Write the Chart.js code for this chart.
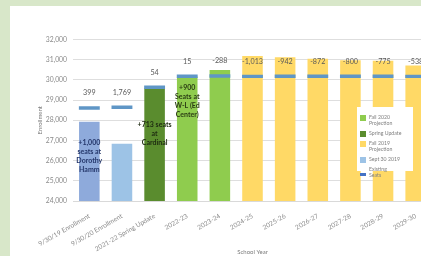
<!DOCTYPE html>
<html>
<head>
<meta charset="utf-8">
<script src="https://cdn.jsdelivr.net/npm/chart.js@4/dist/chart.umd.min.js"></script>
<style>
  html, body { margin: 0; padding: 0; width: 421px; height: 256px; overflow: hidden; background: #d8e7c9; }
  #panel { position: absolute; left: 10px; top: 6px; width: 411px; height: 250px; background: #fff; overflow: hidden; }
  #wrap { position: absolute; left: 0; top: 2px; width: 424px; height: 248px; }
  #legend { position: absolute; left: 347px; top: 101px; width: 56px; height: 64px; background: #fff;
            font-family: Lato, "Noto Sans", sans-serif; font-size: 5.2px; line-height: 6px; color: #808080; }
  .item { position: absolute; left: 12px; }
  .sw { position: absolute; left: 3px; width: 6px; height: 6px; }
</style>
</head>
<body>
<div id="panel">
  <div id="wrap"><canvas id="chart"></canvas></div>
  <div id="legend"></div>
</div>
<script>
// categories and values
const categories = ['9/30/19 Enrollment', '9/30/20 Enrollment', '2021-22 Spring Update', '2022-23', '2023-24',
                    '2024-25', '2025-26', '2026-27', '2027-28', '2028-29', '2029-30'];
const enrollment = [27928, 26838, 29583, 30166, 30487, 31191, 31121, 31051, 30979, 30954, 30716];
const seats = [28610, 28650, 29637, 30181, 30199, 30178, 30179, 30179, 30179, 30179, 30178];
const gaps = [399, 1769, 54, 15, -288, -1013, -942, -872, -800, -775, -538];
const yTicks = { min: 24000, max: 32000, step: 1000 };

// notes written inside some bars
const notes = [
  { i: 0, lines: ['+1,000', 'seats at', 'Dorothy', 'Hamm'], color: '#24366a' },
  { i: 2, lines: ['+713 seats', 'at', 'Cardinal'], color: '#1d2a10' },
  { i: 3, lines: ['+900', 'Seats at', 'W-L (Ed', 'Center)'], color: '#2b3d14' }
];
const noteOffset = { 0: 21, 2: 36, 3: 11 };

// colours per bar
const barColors = ['#8eaadb', '#9dc3e6', '#5a8c2e', '#8fcc4e', '#8fcc4e',
                   '#ffd966', '#ffd966', '#ffd966', '#ffd966', '#ffd966', '#ffd966'];
const valueColors = ['#4a6a9e', '#5d7fa3', '#3b5f1c', '#4d7d1d', '#4d7d1d',
                     '#a88a1c', '#a88a1c', '#a88a1c', '#a88a1c', '#a88a1c', '#a88a1c'];
const seatColor = '#5f96c6';

const legendItems = [
  { color: '#8fcc4e', text: 'Fall 2020<br>Projection', h: 6 },
  { color: '#5a8c2e', text: 'Spring Update', h: 6 },
  { color: '#ffd966', text: 'Fall 2019<br>Projection', h: 6 },
  { color: '#9dc3e6', text: 'Sept 30 2019', h: 6 },
  { color: '#4472c4', text: 'Existing<br>Seats', h: 3 }
];

const fontFam = 'Lato, "Noto Sans", sans-serif';
const fmt = v => v.toLocaleString('en-US');

// labels drawn on the bars
const barText = {
  id: 'barText',
  afterDatasetsDraw(chart) {
    const ctx = chart.ctx;
    const y = chart.scales.y;
    const meta = chart.getDatasetMeta(1);
    ctx.save();
    ctx.textAlign = 'center';
    ctx.textBaseline = 'middle';
    meta.data.forEach((bar, i) => {
      // value at the foot of the bar
      ctx.font = 'bold 6.5px ' + fontFam;
      ctx.fillStyle = valueColors[i];
      ctx.fillText(fmt(enrollment[i]), bar.x, bar.base - 5);
      // difference to seats above
      ctx.font = '7.2px ' + fontFam;
      ctx.fillStyle = '#5a5a5a';
      ctx.fillText(fmt(gaps[i]), bar.x, y.getPixelForValue(seats[i]) - 15);
    });
    notes.forEach(n => {
      const bar = meta.data[n.i];
      ctx.font = 'bold 7px ' + fontFam;
      ctx.fillStyle = n.color;
      n.lines.forEach((t, k) => ctx.fillText(t, bar.x, bar.y + noteOffset[n.i] + k * 9));
    });
    ctx.restore();
  }
};

new Chart(document.getElementById('chart'), {
  type: 'bar',
  data: {
    labels: categories,
    datasets: [
      {
        label: 'Existing Seats',
        data: seats.map(v => [v - 85, v + 85]),
        backgroundColor: seatColor,
        grouped: false,
        categoryPercentage: 1,
        barPercentage: 0.64
      },
      {
        label: 'Enrollment',
        data: enrollment,
        backgroundColor: barColors,
        grouped: false,
        categoryPercentage: 1,
        barPercentage: 0.63
      }
    ]
  },
  plugins: [barText],
  options: {
    responsive: true,
    maintainAspectRatio: false,
    animation: false,
    layout: { padding: { top: 31.6, right: 2, left: 0, bottom: 0 } },
    plugins: { legend: { display: false }, tooltip: { enabled: false } },
    scales: {
      x: {
        grid: { display: false },
        border: { color: '#d9d9d9' },
        ticks: {
          minRotation: 30, maxRotation: 30, padding: 3,
          color: '#8a8a8a', font: { family: fontFam, size: 6.6 }
        },
        title: { display: true, text: 'School Year', color: '#7a7a7a',
                 font: { family: fontFam, size: 6 }, padding: { top: 0, bottom: 0 } },
        afterFit: s => { s.height = 55; }
      },
      y: {
        min: yTicks.min, max: yTicks.max,
        grid: { color: '#dedede', drawTicks: false },
        border: { display: false },
        ticks: {
          stepSize: yTicks.step, padding: 6, color: '#8a8a8a',
          font: { family: fontFam, size: 6.8 },
          callback: v => fmt(v)
        },
        title: { display: true, text: 'Enrollment', color: '#7a7a7a',
                 font: { family: fontFam, size: 6 }, padding: { top: 26, bottom: 0 } },
        afterFit: s => { s.width = 63; }
      }
    }
  }
});

// legend box
const lg = document.getElementById('legend');
let ly = 7;
legendItems.forEach(it => {
  const lines = it.text.split('<br>').length;
  const sw = document.createElement('div');
  sw.className = 'sw';
  sw.style.background = it.color;
  sw.style.height = it.h + 'px';
  sw.style.top = (ly + (lines === 2 && it.h === 3 ? 7 : 1)) + 'px';
  lg.appendChild(sw);
  const tx = document.createElement('div');
  tx.className = 'item';
  tx.style.top = ly + 'px';
  tx.innerHTML = it.text;
  lg.appendChild(tx);
  ly += lines * 6 + 4;
});
</script>
</body>
</html>
